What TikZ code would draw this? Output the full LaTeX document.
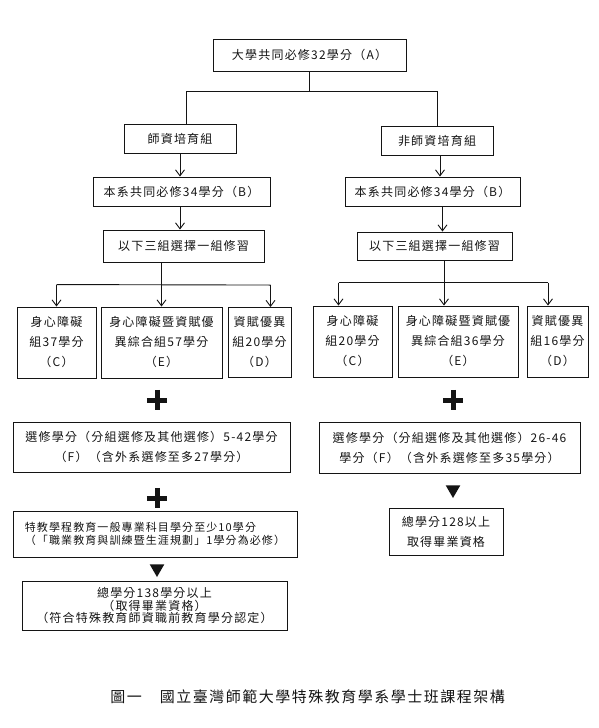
\documentclass[tikz,border=0pt]{standalone}
\usepackage{fontspec}
\setmainfont{Noto Sans CJK TC}[LetterSpace=10]
\usetikzlibrary{arrows.meta,shapes.geometric}
\definecolor{PlanInk}{HTML}{141414}
\tikzset{
  plan text/.style={font=\fontsize{12}{20}\selectfont, text=PlanInk},
  plan box/.style={plan text, draw=PlanInk, line width=.9pt, inner sep=0pt, align=center},
  plan link/.style={draw=PlanInk, line width=.9pt},
  plan arrow/.style={plan link, -{Straight Barb[length=6pt,width=9pt]}},
  plan plus/.style={minimum size=20pt, inner sep=0pt},
  plan bar/.style={draw=PlanInk, line width=5pt},
  plan down/.style={regular polygon, regular polygon sides=3, shape border rotate=180,
    fill=PlanInk, minimum size=17pt, inner sep=0pt},
}

\begin{document}
\begin{tikzpicture}[x=1pt,y=-1pt]
  \useasboundingbox (0,0) rectangle (599,728);

  \node[plan box, minimum width=193pt, minimum height=32pt] (univ) at (309.5,55) {大學共同必修32學分（A）};

  % two tracks
  \node[plan box, minimum width=112pt, minimum height=29pt] (teachL) at (180,138.5) {師資培育組};
  \node[plan box, minimum width=112pt, minimum height=29pt] (teachR) at (437,140.5) {非師資培育組};
  \draw[plan link] (univ.south) -- ++(0,20) coordinate (split);
  \draw[plan link] (split) -| ([xshift=6pt]teachL.north);
  \draw[plan link] (split) -| (teachR.north);

  \node[plan box, minimum width=177pt, minimum height=29pt] (deptL) at (181.5,191.5) {本系共同必修34學分（B）};
  \node[plan box, minimum width=175pt, minimum height=29pt] (deptR) at (432.5,191.5) {本系共同必修34學分（B）};
  \draw[plan arrow] (teachL.south) -- (teachL.south |- deptL.north);
  \draw[plan arrow] ([xshift=3pt]teachR.south) -- ([xshift=3pt]teachR.south |- deptR.north);

  \node[plan box, minimum width=161pt, minimum height=32pt] (chooseL) at (183.5,246) {以下三組選擇一組修習};
  \node[plan box, minimum width=155pt, minimum height=28pt] (chooseR) at (434.5,246) {以下三組選擇一組修習};
  \draw[plan arrow] (deptL.south -| teachL.south) -- (teachL.south |- chooseL.north);
  \draw[plan arrow] ([xshift=10pt]deptR.south) -- ([xshift=10pt]deptR.south |- chooseR.north);

  % left groups
  \node[plan box, minimum width=79pt, minimum height=71pt] (lowC) at (56.5,342.5) {身心障礙\\組37學分\\（C）};
  \node[plan box, minimum width=121pt, minimum height=71pt] (lowE) at (161.5,342.5) {身心障礙暨資賦優\\異綜合組57學分\\（E）};
  \node[plan box, minimum width=63pt, minimum height=70pt] (lowD) at (259.5,342.5) {資賦優異\\組20學分\\（D）};
  \draw[plan arrow] (chooseL.south -| lowE.north) -- (lowE.north);
  \draw[plan link] ([yshift=22pt]lowC.north) -- ([xshift=11pt,yshift=22pt]lowD.north);
  \draw[plan arrow] ([yshift=22pt]lowC.north) -- (lowC.north);
  \draw[plan arrow] ([xshift=11pt,yshift=22pt]lowD.north) -- ([xshift=11pt]lowD.north);

  % right groups
  \node[plan box, minimum width=79pt, minimum height=71pt] (lowCr) at (352.5,341.5) {身心障礙\\組20學分\\（C）};
  \node[plan box, minimum width=120pt, minimum height=71pt] (lowEr) at (458,341.5) {身心障礙暨資賦優\\異綜合組36學分\\（E）};
  \node[plan box, minimum width=61pt, minimum height=71pt] (lowDr) at (557.5,341.5) {資賦優異\\組16學分\\（D）};
  \draw[plan arrow] ([xshift=-14pt]lowEr.north |- chooseR.south) -- ([xshift=-14pt]lowEr.north);
  \draw[plan link] ([xshift=-14pt,yshift=23pt]lowCr.north) -- ([xshift=-9.5pt,yshift=23pt]lowDr.north);
  \draw[plan arrow] ([xshift=-14pt,yshift=23pt]lowCr.north) -- ([xshift=-14pt]lowCr.north);
  \draw[plan arrow] ([xshift=-9.5pt,yshift=23pt]lowDr.north) -- ([xshift=-9.5pt]lowDr.north);

  \node[plan plus] (plusL) at (157,400) {};
  \draw[plan bar] (plusL.north) -- (plusL.south);
  \draw[plan bar] (plusL.west) -- (plusL.east);
  \node[plan plus] (plusR) at (453,400) {};
  \draw[plan bar] (plusR.north) -- (plusR.south);
  \draw[plan bar] (plusR.west) -- (plusR.east);

  \node[plan box, minimum width=277pt, minimum height=50pt] (electL) at (151.5,447)
    {選修學分（分組選修及其他選修）5-42學分\\（F）（含外系選修至多27學分）};
  \node[plan box, minimum width=261pt, minimum height=51pt] (electR) at (449.5,447.5)
    {選修學分（分組選修及其他選修）26-46\\學分（F）（含外系選修至多35學分）};

  \node[plan plus] (plusL2) at (157,498) {};
  \draw[plan bar] (plusL2.north) -- (plusL2.south);
  \draw[plan bar] (plusL2.west) -- (plusL2.east);
  \node[plan down] (downR) at (453,489.5) {};

  \node[plan box, font=\fontsize{11}{13.5}\selectfont, align=left, minimum width=284pt, minimum height=46pt]
    (extra) at (155,534) {特教學程教育一般專業科目學分至少10學分\\（「職業教育與訓練暨生涯規劃」1學分為必修）};
  \node[plan down] (downL) at (157,568.5) {};

  \node[plan box, font=\fontsize{12}{12.5}\selectfont, minimum width=265pt, minimum height=49pt]
    (totalL) at (154.5,605.5) {總學分138學分以上\\（取得畢業資格）\\（符合特殊教育師資職前教育學分認定）};
  \node[plan box, minimum width=114pt, minimum height=47pt] (totalR) at (446,531.5) {總學分128以上\\取得畢業資格};

  \node[plan text, font=\fontsize{15}{18}\selectfont] (caption) at (307.5,697)
    {圖一　國立臺灣師範大學特殊教育學系學士班課程架構};
\end{tikzpicture}
\end{document}
